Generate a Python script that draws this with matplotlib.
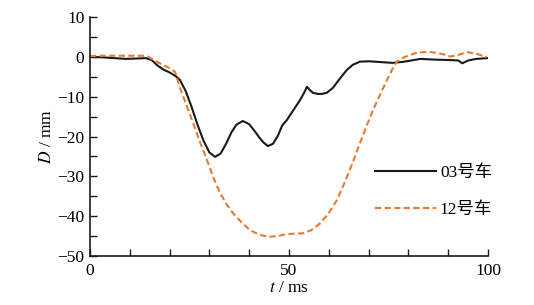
import matplotlib
matplotlib.use("Agg")
import matplotlib.pyplot as plt
from matplotlib.ticker import MultipleLocator

plt.rcParams['font.family'] = ['Liberation Serif', 'Noto Sans CJK SC']
plt.rcParams['mathtext.fontset'] = 'stix'

# 03号车
t03 = [0, 3, 6, 9, 12, 14, 15.5, 17, 18.5, 20, 21.5, 22.6, 24, 25.5, 27, 28.5, 30, 31.4, 32.8, 34.2, 35.5, 36.8,
       38.4, 40, 41.5, 42.5, 43.6, 44.7, 46, 47.2, 48.3, 49.5, 51, 52.8, 53.8, 54.5, 55.2, 56, 57.2, 58.3, 59.5,
       61, 62.5, 64.5, 66, 67.8, 70, 73, 76, 79, 83, 87, 90.5, 92.5, 93.5, 95, 97, 100]
d03 = [0, -0.1, -0.3, -0.5, -0.4, -0.3, -0.8, -2.2, -3.2, -3.9, -4.8, -5.8, -8.5, -12.5, -17, -21, -24, -25.1, -24.3,
       -21.8, -19, -17, -16.1, -16.9, -18.8, -20.2, -21.5, -22.4, -21.8, -19.8, -17.2, -15.8, -13.5, -10.8, -9,
       -7.5, -8.3, -9, -9.3, -9.3, -9.0, -7.8, -5.8, -3.3, -2.0, -1.2, -1.1, -1.3, -1.5, -1.2, -0.5, -0.7, -0.8,
       -0.9, -1.6, -0.9, -0.5, -0.3]

# 12号车
t12 = [0, 3, 6, 9, 12, 14.3, 16, 18.3, 20, 21.4, 22.6, 24.2, 25.9, 27.6, 29.4, 31, 32.7, 34.3, 35.9, 38, 40.2, 42.4,
       44.7, 47, 49.5, 51.5, 53.5, 55.6, 57.8, 60, 62, 64, 66, 67.8, 69.5, 71.1, 72.9, 74.6, 76, 77.1, 78.7, 80.4,
       82, 83.7, 85.5, 87.2, 89, 90.5, 92.5, 94.7, 97, 99.7]
d12 = [0.2, 0.3, 0.3, 0.3, 0.3, 0.25, -0.8, -2, -2.8, -3.8, -7.8, -12, -16.6, -21.3, -25.9, -30.3, -34.2, -37, -39.2,
       -41.5, -43.5, -44.6, -45.2, -45, -44.5, -44.4, -44.3, -43.5, -41.8, -39.2, -36, -31.5, -26.5, -21.7, -17.3,
       -13.3, -9.4, -5.8, -3.0, -1.2, -0.2, 0.5, 1.0, 1.2, 1.2, 1.0, 0.6, 0.1, 0.5, 1.2, 0.8, 0.0]

xticks = [0, 50, 100]
yticks = [10, 0, -10, -20, -30, -40, -50]

fig = plt.figure(figsize=(5.34, 3.05), dpi=100)
ax = fig.add_axes([0.1685, 0.1607, 0.7455, 0.7833])

ax.plot(t03, d03, color='#1a1a1a', lw=1.5, label='03号车')
ax.plot(t12, d12, color='#E8792E', lw=1.5, ls=(0, (3, 1.6)), label='12号车')

ax.set_xlim(0, 100)
ax.set_ylim(-50, 10)
ax.set_xticks(xticks)
ax.set_yticks(yticks)
ax.set_yticklabels(['10', '0', '−10', '−20', '−30', '−40', '−50'])
ax.xaxis.set_minor_locator(MultipleLocator(10))
ax.yaxis.set_minor_locator(MultipleLocator(5))
ax.tick_params(which='both', direction='in', length=5, width=1, labelsize=12.5, color='#1a1a1a')
ax.tick_params(axis='x', pad=5)
ax.tick_params(axis='y', pad=4)
for s in ['top', 'right']:
    ax.spines[s].set_visible(False)
for s in ['left', 'bottom']:
    ax.spines[s].set_linewidth(1.2)
    ax.spines[s].set_color('#1a1a1a')

ax.set_xlabel(r'$t$ / ms', fontsize=12.5, labelpad=1)
ax.set_ylabel(r'$D$ / mm', fontsize=12.5, labelpad=2)

leg = ax.legend(loc='upper left', bbox_to_anchor=(0.698, 0.41), frameon=False, fontsize=12.5,
                handlelength=3.5, handletextpad=0.25, labelspacing=1.2, borderaxespad=0)

fig.savefig('out.png', dpi=100)
